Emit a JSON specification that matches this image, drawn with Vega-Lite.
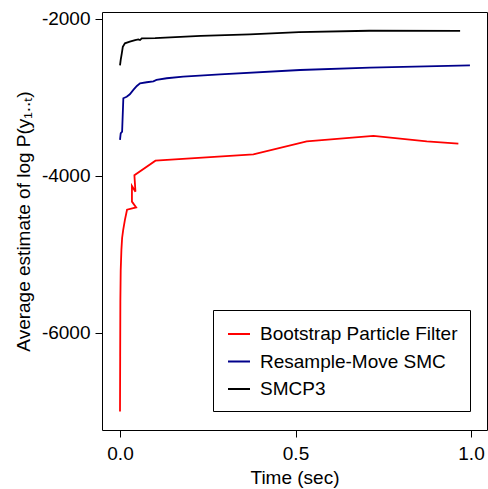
{
  "$schema": "https://vega.github.io/schema/vega-lite/v6.json",
  "width": 385,
  "height": 418,
  "autosize": {"type": "none"},
  "padding": {"left": 102, "top": 12, "right": 1, "bottom": 59},
  "background": "white",
  "config": {
    "font": "Liberation Sans",
    "view": {"stroke": "#000000", "strokeWidth": 1},
    "axis": {
      "domain": false,
      "grid": false,
      "ticks": true,
      "tickColor": "#000000",
      "tickSize": 7,
      "tickWidth": 1,
      "labelColor": "#000000",
      "titleColor": "#000000",
      "labelFontSize": 19,
      "titleFontSize": 19,
      "titleFontWeight": "normal",
      "labelFont": "Liberation Sans",
      "titleFont": "Liberation Sans"
    }
  },
  "data": {
    "values": [
      {"method": "Bootstrap Particle Filter", "i": 1, "t": 0.000, "v": -7000},
      {"method": "Bootstrap Particle Filter", "i": 2, "t": 0.0005, "v": -6300},
      {"method": "Bootstrap Particle Filter", "i": 3, "t": 0.001, "v": -5600},
      {"method": "Bootstrap Particle Filter", "i": 4, "t": 0.002, "v": -5200},
      {"method": "Bootstrap Particle Filter", "i": 5, "t": 0.004, "v": -4940},
      {"method": "Bootstrap Particle Filter", "i": 6, "t": 0.006, "v": -4790},
      {"method": "Bootstrap Particle Filter", "i": 7, "t": 0.009, "v": -4690},
      {"method": "Bootstrap Particle Filter", "i": 8, "t": 0.014, "v": -4560},
      {"method": "Bootstrap Particle Filter", "i": 9, "t": 0.020, "v": -4430},
      {"method": "Bootstrap Particle Filter", "i": 10, "t": 0.046, "v": -4400},
      {"method": "Bootstrap Particle Filter", "i": 11, "t": 0.034, "v": -4327},
      {"method": "Bootstrap Particle Filter", "i": 12, "t": 0.034, "v": -4128},
      {"method": "Bootstrap Particle Filter", "i": 13, "t": 0.044, "v": -4200},
      {"method": "Bootstrap Particle Filter", "i": 14, "t": 0.041, "v": -3990},
      {"method": "Bootstrap Particle Filter", "i": 15, "t": 0.101, "v": -3805},
      {"method": "Bootstrap Particle Filter", "i": 16, "t": 0.380, "v": -3724},
      {"method": "Bootstrap Particle Filter", "i": 17, "t": 0.532, "v": -3558},
      {"method": "Bootstrap Particle Filter", "i": 18, "t": 0.722, "v": -3490},
      {"method": "Bootstrap Particle Filter", "i": 19, "t": 0.874, "v": -3558},
      {"method": "Bootstrap Particle Filter", "i": 20, "t": 0.964, "v": -3589},
      {"method": "Resample-Move SMC", "i": 1, "t": 0.000, "v": -3541},
      {"method": "Resample-Move SMC", "i": 2, "t": 0.002, "v": -3456},
      {"method": "Resample-Move SMC", "i": 3, "t": 0.006, "v": -3436},
      {"method": "Resample-Move SMC", "i": 4, "t": 0.0095, "v": -3010},
      {"method": "Resample-Move SMC", "i": 5, "t": 0.019, "v": -2990},
      {"method": "Resample-Move SMC", "i": 6, "t": 0.028, "v": -2959},
      {"method": "Resample-Move SMC", "i": 7, "t": 0.038, "v": -2904},
      {"method": "Resample-Move SMC", "i": 8, "t": 0.048, "v": -2853},
      {"method": "Resample-Move SMC", "i": 9, "t": 0.057, "v": -2819},
      {"method": "Resample-Move SMC", "i": 10, "t": 0.076, "v": -2806},
      {"method": "Resample-Move SMC", "i": 11, "t": 0.095, "v": -2794},
      {"method": "Resample-Move SMC", "i": 12, "t": 0.104, "v": -2777},
      {"method": "Resample-Move SMC", "i": 13, "t": 0.133, "v": -2755},
      {"method": "Resample-Move SMC", "i": 14, "t": 0.180, "v": -2735},
      {"method": "Resample-Move SMC", "i": 15, "t": 0.285, "v": -2705},
      {"method": "Resample-Move SMC", "i": 16, "t": 0.513, "v": -2650},
      {"method": "Resample-Move SMC", "i": 17, "t": 0.712, "v": -2620},
      {"method": "Resample-Move SMC", "i": 18, "t": 0.997, "v": -2590},
      {"method": "SMCP3", "i": 1, "t": 0.000, "v": -2590},
      {"method": "SMCP3", "i": 2, "t": 0.002, "v": -2520},
      {"method": "SMCP3", "i": 3, "t": 0.005, "v": -2440},
      {"method": "SMCP3", "i": 4, "t": 0.008, "v": -2355},
      {"method": "SMCP3", "i": 5, "t": 0.014, "v": -2310},
      {"method": "SMCP3", "i": 6, "t": 0.028, "v": -2289},
      {"method": "SMCP3", "i": 7, "t": 0.043, "v": -2268},
      {"method": "SMCP3", "i": 8, "t": 0.052, "v": -2259},
      {"method": "SMCP3", "i": 9, "t": 0.057, "v": -2268},
      {"method": "SMCP3", "i": 10, "t": 0.062, "v": -2246},
      {"method": "SMCP3", "i": 11, "t": 0.100, "v": -2245},
      {"method": "SMCP3", "i": 12, "t": 0.230, "v": -2215},
      {"method": "SMCP3", "i": 13, "t": 0.370, "v": -2195},
      {"method": "SMCP3", "i": 14, "t": 0.510, "v": -2168},
      {"method": "SMCP3", "i": 15, "t": 0.710, "v": -2150},
      {"method": "SMCP3", "i": 16, "t": 0.969, "v": -2152}
    ]
  },
  "mark": {"type": "line", "strokeWidth": 1.8, "strokeJoin": "miter", "clip": true},
  "encoding": {
    "x": {
      "field": "t",
      "type": "quantitative",
      "scale": {"domain": [-0.0513, 1.0456], "nice": false, "zero": false},
      "axis": {"values": [0, 0.5, 1], "format": ".1f", "title": "Time (sec)", "labelPadding": 7, "titlePadding": 5}
    },
    "y": {
      "field": "v",
      "type": "quantitative",
      "scale": {"domain": [-7236, -1911], "nice": false, "zero": false},
      "axis": {"values": [-6000, -4000, -2000], "labelExpr": "'' + datum.value", "title": "Average estimate of log P(y₁..ₜ)", "labelPadding": 5, "titlePadding": 8}
    },
    "color": {
      "field": "method",
      "type": "nominal",
      "scale": {
        "domain": ["Bootstrap Particle Filter", "Resample-Move SMC", "SMCP3"],
        "range": ["#ff0000", "#00008b", "#000000"]
      },
      "legend": {
        "title": null,
        "orient": "none",
        "legendX": 111,
        "legendY": 298,
        "strokeColor": "#000000",
        "fillColor": "#ffffff",
        "padding": 12,
        "symbolType": "stroke",
        "symbolSize": 484,
        "symbolStrokeWidth": 2,
        "symbolOffset": 2,
        "labelOffset": 9,
        "labelFontSize": 19,
        "labelFont": "Liberation Sans",
        "labelColor": "#000000",
        "labelLimit": 400,
        "rowPadding": 5.5
      }
    },
    "order": {"field": "i", "type": "quantitative"}
  }
}
